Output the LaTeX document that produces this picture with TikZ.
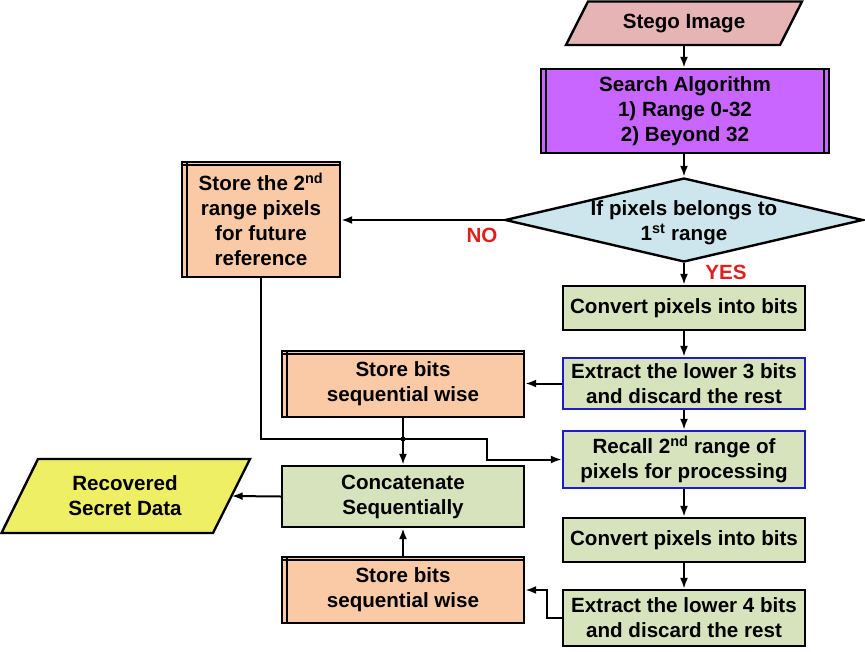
\documentclass[tikz,border=0pt]{standalone}
\usepackage{fontspec}
\setmainfont{Liberation Sans}
\usetikzlibrary{shapes.geometric,arrows.meta,calc}
\definecolor{stegopink}{HTML}{E6B4B4}
\definecolor{algopurple}{HTML}{C966FF}
\definecolor{decblue}{HTML}{CDE5EC}
\definecolor{peach}{HTML}{FACAA6}
\definecolor{olivegreen}{HTML}{D7E3BC}
\definecolor{yellowout}{HTML}{EFEF66}
\definecolor{blueborder}{HTML}{1C1CC8}
\definecolor{labred}{HTML}{E0201C}
\tikzset{
  x=1pt, y=-1pt,
  txt/.style={font=\fontsize{20.6}{25}\selectfont\bfseries, align=center, text=black},
  procbox/.style={txt, draw=black, line width=2.4pt, rectangle, inner sep=0pt},
  greenbox/.style={procbox, fill=olivegreen},
  bluegreen/.style={procbox, fill=olivegreen, draw=blueborder},
  storebox/.style={procbox, fill=peach},
  innerline/.style={line width=1.8pt, draw=black},
  conn/.style={line width=2pt, draw=black},
  arr/.style={conn, -{Latex[length=11pt,width=8pt]}},
  lab/.style={font=\fontsize{20.6}{24}\selectfont\bfseries, text=labred},
}
\begin{document}
\begin{tikzpicture}
\useasboundingbox (0,0) rectangle (865,651);

% Stego image (parallelogram)
\filldraw[fill=stegopink, draw=black, line width=2.4pt] (566,45) -- (588,1.5) -- (802,1.5) -- (780,45) -- cycle;
\node[txt, minimum width=214, minimum height=44, inner sep=0pt] (stego) at (684,23) {Stego Image};

% Search algorithm (predefined process)
\node[procbox, fill=algopurple, minimum width=288, minimum height=84] (search) at (685,111)
  {Search Algorithm\\1) Range 0-32\\2) Beyond 32};
\draw[innerline] ([xshift=6pt]search.north west) -- ([xshift=6pt]search.south west);
\draw[innerline] ([xshift=-6pt]search.north east) -- ([xshift=-6pt]search.south east);

% Decision
\node[diamond, draw=black, fill=decblue, line width=2.4pt, minimum width=358, minimum height=84, inner sep=0pt] (dec) at (684,220) {};
\node[txt, inner sep=0pt] (dectext) at (684,223) {If pixels belongs to\\1\textsuperscript{st} range};

% Store 2nd range
\node[storebox, minimum width=158, minimum height=115] (store2nd) at (261,219.5)
  {Store the 2\textsuperscript{nd}\\range pixels\\for future\\reference};
\draw[innerline] ([xshift=6pt]store2nd.north west) -- ([xshift=6pt]store2nd.south west);
\draw[innerline] ([yshift=-4pt]store2nd.north west) -- ([yshift=-4pt]store2nd.north east);

% Right column
\node[greenbox, minimum width=242, minimum height=44] (conv1) at (684,308) {Convert pixels into bits};
\node[bluegreen, minimum width=242, minimum height=51] (ext3) at (684,383.5) {Extract the lower 3 bits\\and discard the rest};
\node[bluegreen, minimum width=242, minimum height=57] (recall) at (684,459.5) {Recall 2\textsuperscript{nd} range of\\pixels for processing};
\node[greenbox, minimum width=242, minimum height=44] (conv2) at (684,540) {Convert pixels into bits};
\node[greenbox, minimum width=242, minimum height=56] (ext4) at (684,618) {Extract the lower 4 bits\\and discard the rest};

% Middle column
\node[storebox, minimum width=242, minimum height=66] (storeA) at (403,384) {Store bits\\sequential wise};
\draw[innerline] ([xshift=6pt]storeA.north west) -- ([xshift=6pt]storeA.south west);
\draw[innerline] ([yshift=-4pt]storeA.north west) -- ([yshift=-4pt]storeA.north east);

\node[greenbox, minimum width=242, minimum height=61] (concat) at (403,496.5) {Concatenate\\Sequentially};

\node[storebox, minimum width=242, minimum height=66] (storeB) at (403,590) {Store bits\\sequential wise};
\draw[innerline] ([xshift=6pt]storeB.north west) -- ([xshift=6pt]storeB.south west);
\draw[innerline] ([yshift=-4pt]storeB.north west) -- ([yshift=-4pt]storeB.north east);

% Recovered secret data (parallelogram)
\filldraw[fill=yellowout, draw=black, line width=2.4pt] (1.5,533) -- (38,459) -- (250,459) -- (213,533) -- cycle;
\node[txt, minimum width=213, minimum height=74, inner sep=0pt] (rec) at (125,496) {Recovered\\Secret Data};

% Labels
\node[lab] (nolab) at (482,235) {NO};
\node[lab] (yeslab) at (726,272) {YES};

% Connectors
\draw[arr] (stego.south) -- (stego.south |- search.north);
\draw[arr] (search.south -| dec.north) -- (dec.north);
\draw[arr] (dec.west) -- (dec.west -| store2nd.east);
\draw[arr] (dec.south) -- (conv1.north);
\draw[arr] (conv1.south) -- (ext3.north);
\draw[arr] (ext3.west) -- (ext3.west -| storeA.east);
\draw[arr] (ext3.south) -- (recall.north);
\draw[arr] (recall.south) -- (conv2.north);
\draw[arr] (conv2.south) -- (ext4.north);

\coordinate (j1) at (487,439);
\draw[arr] (store2nd.south) |- (j1) |- (recall.west);
\draw[arr] (storeA.south) -- (concat.north);
\node[circle, fill=black, inner sep=0pt, minimum size=5pt] (jdot) at (403,439) {};

\coordinate (j2) at (547,605);
\draw[arr] (ext4.west) -| (j2) |- (storeB.east);
\draw[arr] (storeB.north) -- (concat.south);
\draw[arr] (concat.west) -- (rec.east);
\end{tikzpicture}
\end{document}
